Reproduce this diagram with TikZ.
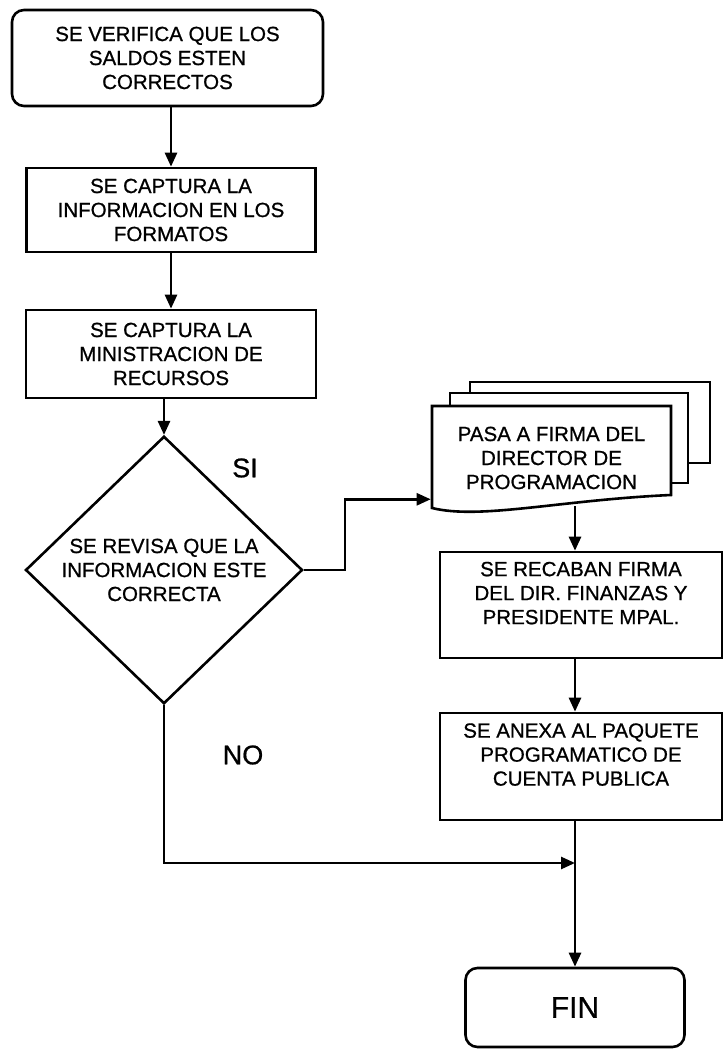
\documentclass[tikz,border=0pt]{standalone}
\usepackage{fontspec}
\setmainfont{Liberation Sans}[FakeBold = 0.8]
\usetikzlibrary{shapes.geometric, arrows.meta, calc}

\begin{document}
\begin{tikzpicture}[x = 1pt, y = 1pt, line width = 2.6pt,
        txt/.style = {font = \fontsize{20.5}{24}\selectfont, align = center},
        box/.style = {draw, txt, inner sep = 0pt},
        lowbox/.style = {box, minimum width = 282pt, minimum height = 106pt, inner ysep = 8pt, text depth = 24pt},
        flow/.style = {-{Triangle[length = 14pt, width = 12pt]}}]
    \useasboundingbox (0, 0) rectangle (725, 1051);

    % Left column
    \node[box, rounded corners = 12pt, minimum width = 311pt, minimum height = 96pt] (verifica) at (167.5, 993) {SE VERIFICA QUE LOS\\SALDOS ESTEN\\CORRECTOS};
    \node[box, minimum width = 289pt, minimum height = 84pt] (formatos) at (171, 841) {SE CAPTURA LA\\INFORMACION EN LOS\\FORMATOS};
    \node[box, minimum width = 290pt, minimum height = 88pt] (recursos) at (171, 697) {SE CAPTURA LA\\MINISTRACION DE\\RECURSOS};
    \node[draw, diamond, txt, inner sep = 0pt, minimum width = 277pt, minimum height = 264pt] (revisa) at (164, 481) {SE REVISA QUE LA\\INFORMACION ESTE\\CORRECTA};

    % Stack of documents
    \draw[fill = white] (470, 669) rectangle (710, 588);
    \draw[fill = white] (450, 658) rectangle (688, 568);
    \draw[fill = white] (432, 645) -- (671, 645) -- (671, 556) .. controls (560, 551) and (480, 531) .. (432, 543) -- cycle;
    \node[txt, inner sep = 0pt, minimum width = 239pt, minimum height = 94pt] (pasa) at (551.5, 593) {PASA A FIRMA DEL\\DIRECTOR DE\\PROGRAMACION};

    % Right column
    \node[lowbox] (recaban) at (581, 446) {SE RECABAN FIRMA\\DEL DIR. FINANZAS Y\\PRESIDENTE MPAL.};
    \node[lowbox, minimum height = 107pt] (anexa) at (581, 284.5) {SE ANEXA AL PAQUETE\\PROGRAMATICO DE\\CUENTA PUBLICA};
    \node[draw, rounded corners = 12pt, minimum width = 219pt, minimum height = 79pt, font = \fontsize{30}{32}\selectfont] (fin) at (575, 43.5) {FIN};

    % Answers
    \node[font = \fontsize{27}{30}\selectfont] (si) at (245, 583) {SI};
    \node[font = \fontsize{27}{30}\selectfont] (no) at (243, 296) {NO};

    % Connectors
    \coordinate (docin) at ($(pasa.south west) + (0, 7)$);
    \coordinate (join) at (575, 188);
    \draw[flow] (verifica.south -| formatos.north) -- (formatos.north);
    \draw[flow] (formatos.south) -- (recursos.north);
    \draw[flow] (revisa.north |- recursos.south) -- (revisa.north);
    \draw[flow] (revisa.east) -- ++(41, 0) |- (docin);
    \draw[flow] (pasa.south -| fin.north) -- (recaban.north -| fin.north);
    \draw[flow] (recaban.south -| fin.north) -- (anexa.north -| fin.north);
    \draw[flow] (anexa.south -| fin.north) -- (fin.north);
    \draw[flow] (revisa.south) |- (join);
\end{tikzpicture}
\end{document}
